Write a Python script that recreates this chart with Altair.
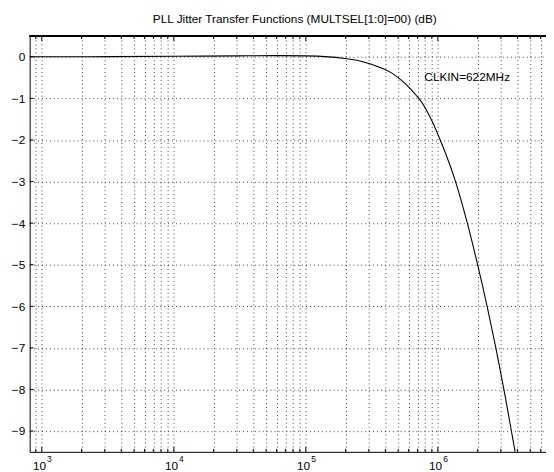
import altair as alt
import pandas as pd

# ---- data ----
freq_hz = [810, 1000, 3162, 10000, 31623, 59430, 99540, 140300, 197700, 255900,
           313300, 373300, 441600, 500000, 554600, 615200, 673000, 717800,
           861000, 1042000, 1361000, 1671000, 2000000, 2360000, 2748000,
           3162000, 3606000, 3846000, 4355000]
gain_db = [0.0, 0.0, 0.005, 0.012, 0.022, 0.028, 0.022, 0.005, -0.04, -0.10,
           -0.18, -0.27, -0.38, -0.50, -0.62, -0.76, -0.90, -1.0,
           -1.41, -2.0, -3.0, -4.0, -5.0, -6.0, -7.0,
           -8.0, -9.0, -9.5, -10.5]

major_freqs = [1000, 10000, 100000, 1000000]
major_exponents = ["3", "4", "5", "6"]
minor_freqs = [900,
               2000, 3000, 4000, 5000, 6000, 7000, 8000, 9000,
               20000, 30000, 40000, 50000, 60000, 70000, 80000, 90000,
               200000, 300000, 400000, 500000, 600000, 700000, 800000, 900000,
               2000000, 3000000, 4000000, 5000000, 6000000]
db_ticks = [-9, -8, -7, -6, -5, -4, -3, -2, -1, 0]

title_text = "PLL Jitter Transfer Functions (MULTSEL[1:0]=00) (dB)"
note_text = ["CLKIN=622MHz"]
note_freq = [790000]
note_db = [-0.48]

# ---- layout / style ----
W, H = 524, 422
FONT = "Liberation Sans"
grid_freqs = sorted(major_freqs + minor_freqs)

curve = pd.DataFrame({"freq": freq_hz, "db": gain_db})
majors = pd.DataFrame({"freq": major_freqs, "exp": major_exponents, "base": ["10"] * 4})
minors = pd.DataFrame({"freq": minor_freqs})
ydf = pd.DataFrame({"db": db_ticks})
note = pd.DataFrame({"freq": note_freq, "db": note_db, "text": note_text})

xs = alt.Scale(type="log", domain=[810, 6590000], nice=False)
ys = alt.Scale(domain=[-9.5, 0.5], nice=False, zero=False)

xaxis = alt.Axis(values=grid_freqs, grid=True, gridDash=[1, 3], gridColor="#000000",
                 gridOpacity=0.75, gridWidth=1, labels=False, ticks=False, tickSize=0,
                 domain=True, domainColor="#000000", domainWidth=1, title=None)
yaxis = alt.Axis(values=db_ticks, grid=True, gridDash=[1, 3], gridColor="#000000",
                 gridOpacity=0.75, gridWidth=1, ticks=False, tickSize=0, format="d",
                 labelFont=FONT, labelFontSize=12, labelColor="#000000", labelPadding=5,
                 domain=True, domainColor="#000000", domainWidth=1, title=None)

X = alt.X("freq:Q", scale=xs, axis=xaxis)
Y = alt.Y("db:Q", scale=ys, axis=yaxis)

line = alt.Chart(curve).mark_line(color="#000000", strokeWidth=1.1, clip=True,
                                  interpolate="monotone").encode(x=X, y=Y)

tick_major_b = alt.Chart(majors).mark_rule(color="#000000").encode(
    x=X, y=alt.value(H), y2=alt.value(H - 5))
tick_major_t = alt.Chart(majors).mark_rule(color="#000000").encode(
    x=X, y=alt.value(0), y2=alt.value(5))
tick_minor_b = alt.Chart(minors).mark_rule(color="#000000").encode(
    x=X, y=alt.value(H), y2=alt.value(H - 3))
tick_minor_t = alt.Chart(minors).mark_rule(color="#000000").encode(
    x=X, y=alt.value(0), y2=alt.value(3))
tick_y = alt.Chart(ydf).mark_rule(color="#000000").encode(
    y=Y, x=alt.value(0), x2=alt.value(4))

top_frame = alt.Chart(ydf).mark_rule(color="#000000").encode(
    x=alt.value(0), x2=alt.value(W), y=alt.value(0))

lab_base = alt.Chart(majors).mark_text(font=FONT, fontSize=12, color="#000000",
                                       align="center", baseline="top", dx=-2.3).encode(
    x=X, y=alt.value(431.5), text="base:N")
lab_exp = alt.Chart(majors).mark_text(font=FONT, fontSize=8.5, color="#000000",
                                      align="left", baseline="top", dx=5.4).encode(
    x=X, y=alt.value(425.7), text="exp:N")

note_mark = alt.Chart(note).mark_text(font=FONT, fontSize=12, color="#000000",
                                      align="left", baseline="middle").encode(
    x=X, y=Y, text="text:N")

chart = alt.layer(
    line, tick_major_b, tick_major_t, tick_minor_b, tick_minor_t, tick_y,
    top_frame, lab_base, lab_exp, note_mark
).properties(
    width=W, height=H,
    title=alt.Title(title_text, font=FONT, fontSize=12, fontWeight="normal",
                    color="#000000", anchor="middle", dx=7, offset=10),
    autosize=alt.AutoSizeParams(type="none"),
    padding={"left": 22, "top": 25, "right": 0, "bottom": 17},
).configure_view(stroke=None)

chart.save("out.html", embed_options={"renderer": "svg", "actions": False})
